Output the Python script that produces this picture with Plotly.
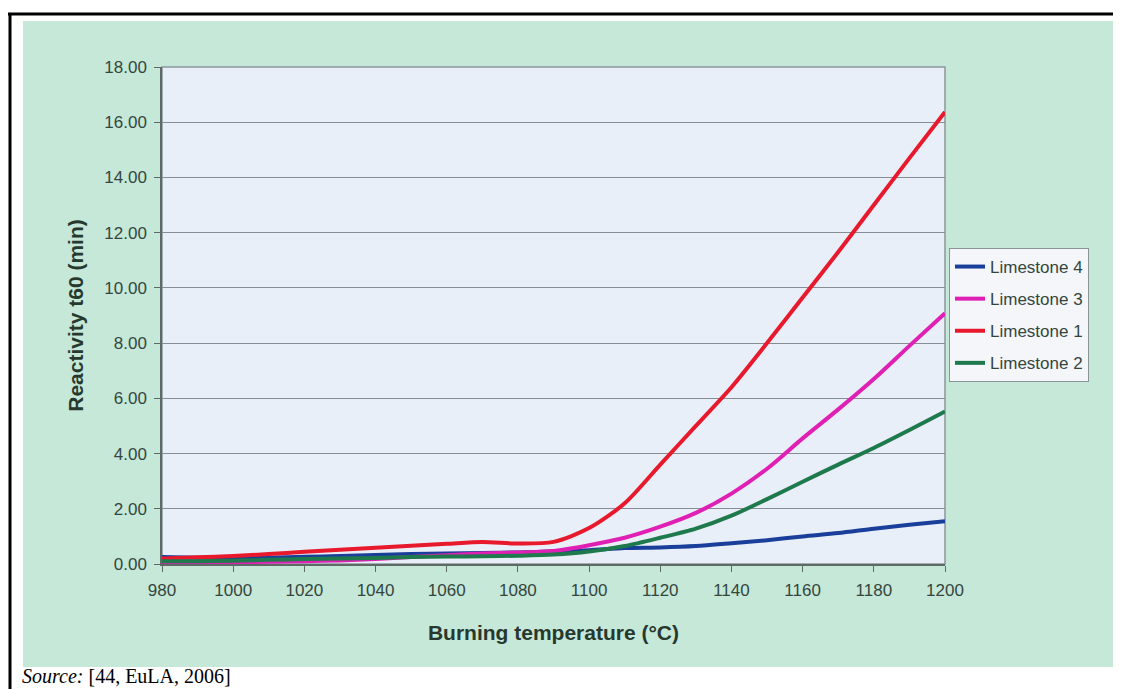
import plotly.graph_objects as go

temps = [980, 990, 1000, 1010, 1020, 1030, 1040, 1050, 1060, 1070, 1080, 1090,
         1100, 1110, 1120, 1130, 1140, 1150, 1160, 1170, 1180, 1190, 1200]

limestone1 = [0.20, 0.24, 0.29, 0.36, 0.44, 0.52, 0.59, 0.66, 0.73, 0.80, 0.74, 0.80,
              1.30, 2.20, 3.60, 5.00, 6.40, 8.00, 9.65, 11.30, 13.00, 14.70, 16.37]
limestone2 = [0.10, 0.10, 0.12, 0.15, 0.18, 0.20, 0.22, 0.25, 0.27, 0.28, 0.30, 0.34,
              0.45, 0.65, 0.95, 1.28, 1.75, 2.35, 2.98, 3.60, 4.20, 4.85, 5.52]
limestone3 = [0.05, 0.05, 0.06, 0.08, 0.10, 0.13, 0.18, 0.25, 0.32, 0.38, 0.42, 0.47,
              0.68, 0.95, 1.35, 1.85, 2.55, 3.45, 4.55, 5.60, 6.70, 7.90, 9.08]
limestone4 = [0.25, 0.23, 0.22, 0.23, 0.26, 0.29, 0.33, 0.36, 0.38, 0.40, 0.42, 0.45,
              0.50, 0.58, 0.60, 0.65, 0.75, 0.86, 1.00, 1.12, 1.28, 1.42, 1.55]

x_ticks = [980, 1000, 1020, 1040, 1060, 1080, 1100, 1120, 1140, 1160, 1180, 1200]
y_ticks = [0, 2, 4, 6, 8, 10, 12, 14, 16, 18]

series = [
    ("Limestone 4", limestone4, "#1a3f9a"),
    ("Limestone 3", limestone3, "#e020b4"),
    ("Limestone 1", limestone1, "#e8192c"),
    ("Limestone 2", limestone2, "#1e7a4c"),
]

# the page body adds an 8px margin; lay out in figure coordinates = screen - 8
OFF = 8
W, H = 1121 - OFF, 689 - OFF
L, R, T, B = 162 - OFF, 945 - OFF, 67 - OFF, 564 - OFF


def px2x(sx):
    return (sx - OFF - L) / (R - L)


def px2y(sy):
    return (B - (sy - OFF)) / (B - T)


FONT = "Liberation Sans, Arial, sans-serif"
TXT = "#34463e"

fig = go.Figure()
for name, vals, col in series:
    fig.add_trace(go.Scatter(
        x=temps, y=vals, name=name, mode="lines",
        line=dict(color=col, width=4, shape="spline", smoothing=0.8),
        legendgroup=name,
    ))

shapes = [
    dict(type="rect", xref="paper", yref="paper", layer="below",
         x0=px2x(23), x1=px2x(1117), y0=px2y(667), y1=px2y(21),
         fillcolor="#c6e8d8", line=dict(width=0)),
    dict(type="rect", xref="paper", yref="paper", layer="below",
         x0=0, x1=1, y0=0, y1=1, fillcolor="#e9eff8",
         line=dict(color="#8c969c", width=1.5)),
    dict(type="line", xref="paper", yref="paper",
         x0=px2x(8), x1=px2x(1121), y0=px2y(14), y1=px2y(14),
         line=dict(color="black", width=3)),
    dict(type="line", xref="paper", yref="paper",
         x0=px2x(10), x1=px2x(10), y0=px2y(13), y1=px2y(689),
         line=dict(color="black", width=3)),
]

fig.update_layout(
    width=W, height=H,
    margin=dict(l=L, r=W - R, t=T, b=H - B),
    paper_bgcolor="white",
    plot_bgcolor="rgba(0,0,0,0)",
    shapes=shapes,
    showlegend=True,
    legend=dict(
        x=px2x(949), y=px2y(248), xanchor="left", yanchor="top",
        bgcolor="#f4f6f9", bordercolor="#8a9498", borderwidth=1,
        font=dict(family=FONT, size=17, color=TXT),
        tracegroupgap=7, traceorder="grouped",
    ),
    xaxis=dict(
        range=[980, 1200], tickmode="array", tickvals=x_ticks,
        ticks="outside", ticklen=6, tickcolor="#5d6a66",
        showgrid=False, zeroline=False,
        showline=True, linecolor="#5d6a66", linewidth=1.5,
        tickfont=dict(family=FONT, size=17, color=TXT),
        ticklabelstandoff=4,
        title=dict(text="<b>Burning temperature (°C)</b>",
                   font=dict(family=FONT, size=21, color="#27382f"), standoff=26),
    ),
    yaxis=dict(
        range=[0, 18], tickmode="array", tickvals=y_ticks, tickformat=".2f",
        ticks="outside", ticklen=6, tickcolor="#5d6a66",
        showgrid=True, gridcolor="#868e94", gridwidth=1.3, zeroline=False,
        showline=True, linecolor="#5d6a66", linewidth=1.5,
        tickfont=dict(family=FONT, size=17, color=TXT),
        ticklabelstandoff=4,
        title=dict(text="<b>Reactivity t60 (min)</b>",
                   font=dict(family=FONT, size=21, color="#27382f"), standoff=15),
    ),
    annotations=[
        dict(xref="paper", yref="paper", x=px2x(20), y=px2y(676),
             xanchor="left", yanchor="middle", showarrow=False,
             text="<i>Source:</i> [44, EuLA, 2006]",
             font=dict(family="Liberation Serif, Times New Roman, serif",
                       size=20, color="black")),
    ],
)

fig.write_html("out.html")
